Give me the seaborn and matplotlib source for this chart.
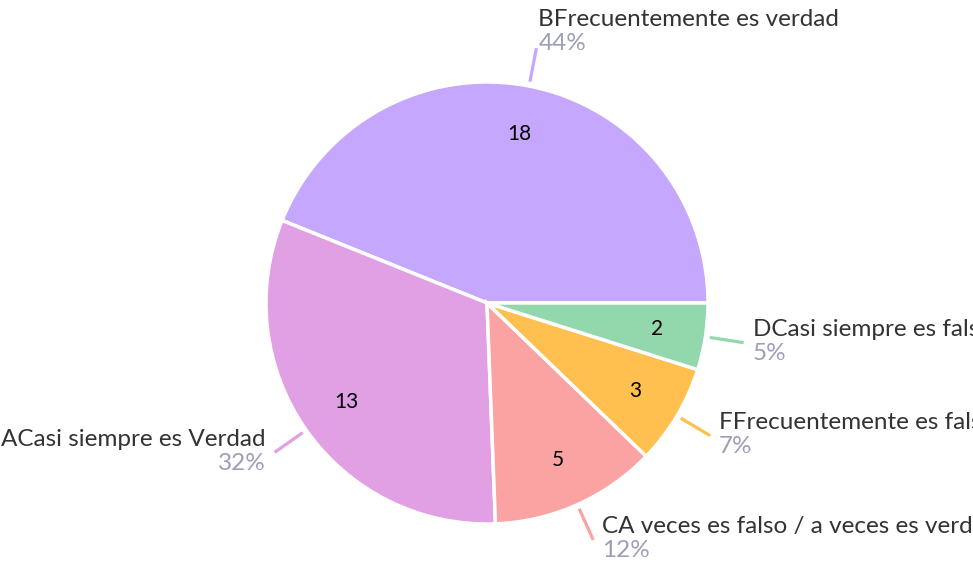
import numpy as np
import matplotlib
matplotlib.use("Agg")
import matplotlib.pyplot as plt
import seaborn as sns

sns.set_theme(style="white")
plt.rcParams["font.family"] = ["Lato", "DejaVu Sans"]

# data, counterclockwise from 3 o'clock
labels = ["BFrecuentemente es verdad", "ACasi siempre es Verdad",
          "CA veces es falso / a veces es verdad", "FFrecuentemente es falso",
          "DCasi siempre es falso"]
counts = [18, 13, 5, 3, 2]
colors = ["#c5a8fe", "#e1a0e4", "#fba3a3", "#ffc050", "#93d8ad"]

W, H = 973, 569
cx, cy, R = 487, 303, 221

fig = plt.figure(figsize=(W / 100, H / 100), dpi=100)
ax = fig.add_axes([0, 0, 1, 1])

wedges, _ = ax.pie(counts, colors=colors, startangle=0, counterclock=True,
                   radius=1, center=(0, 0), frame=True,
                   wedgeprops=dict(edgecolor="white", linewidth=2.5))
ax.set_xlim(-cx / R, (W - cx) / R)
ax.set_ylim(-(H - cy) / R, cy / R)
ax.set_aspect("equal")
ax.axis("off")

total = sum(counts)
px = 1 / R  # one pixel in data units
for w, lab, n, col in zip(wedges, labels, counts, colors):
    a = np.deg2rad((w.theta1 + w.theta2) / 2)
    c, s = np.cos(a), np.sin(a)
    # value inside slice
    ax.text(0.78 * c, 0.78 * s, str(n), ha="center", va="center",
            fontsize=15, color="black")
    # leader line
    ax.plot([1.02 * c, 1.175 * c], [1.02 * s, 1.175 * s], color=col,
            lw=2.3, solid_capstyle="butt")
    ex, ey = 1.175 * c, 1.175 * s
    pct = f"{round(100 * n / total)}%"
    if s > 0.9:
        ha, dx, dy1, dy2 = "left", 2, 29, 5
    else:
        ha = "left" if c > 0 else "right"
        dx = 9 if c > 0 else -9
        dy1, dy2 = 13, -11
    ax.text(ex + dx * px, ey + dy1 * px, lab, ha=ha, va="center",
            fontsize=17.5, color="#333333")
    ax.text(ex + dx * px, ey + dy2 * px, pct, ha=ha, va="center",
            fontsize=17.5, color="#9d9db9")

fig.savefig("out.png", dpi=100)
